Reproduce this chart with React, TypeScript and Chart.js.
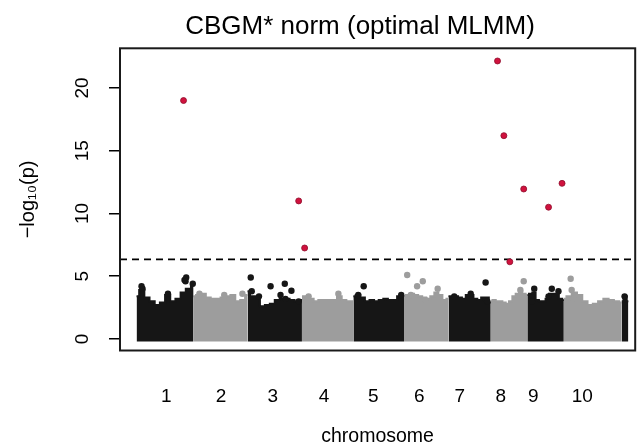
import React, { useEffect, useRef } from "react";
import { Chart, registerables } from "chart.js";

Chart.register(...registerables);

// ---------- data ----------
const TITLE = "CBGM* norm (optimal MLMM)";
const X_TITLE = "chromosome";
const Y_TITLE = "\u2212log\u2081\u2080(p)";

const chromosomes = ["1", "2", "3", "4", "5", "6", "7", "8", "9", "10", ""];
// chromosome lengths (Mb, cumulative axis)
const chrLengths = [287, 272, 274, 259, 255, 224, 213, 184, 184, 292, 33];
// positions (cumulative Mb) where each chromosome label is written
const chrLabelPos = [150, 425, 686, 944, 1192, 1424, 1628, 1834, 1998, 2245];

// upper envelope of the dense mass of markers, sampled evenly along each chromosome (-log10 p)
const chr1Top = [3.4, 3.9, 3.3, 3.0, 2.7, 2.9, 3.5, 3.0, 3.2, 3.7, 4.0, 4.3];
const chr2Top = [3.4, 3.5, 3.6, 3.3, 3.2, 3.2, 3.3, 3.4, 3.5, 3.0, 3.1, 3.5];
const chr3Top = [3.8, 3.4, 3.3, 2.6, 2.7, 2.8, 3.1, 3.2, 3.2, 3.1, 3.0, 3.1];
const chr4Top = [3.4, 3.4, 3.2, 3.0, 3.1, 3.1, 3.1, 3.1, 3.4, 3.1, 3.0, 3.0];
const chr5Top = [3.4, 3.5, 3.3, 3.0, 3.1, 3.0, 3.1, 3.2, 3.1, 3.1, 3.4, 3.3];
const chr6Top = [3.4, 3.5, 3.6, 3.5, 3.4, 3.3, 3.2, 3.4, 3.7, 3.5, 3.1, 3.2];
const chr7Top = [3.4, 3.4, 3.4, 3.3, 3.2, 3.5, 3.5, 3.2, 3.1, 3.3, 3.3, 2.9];
const chr8Top = [3.0, 3.1, 3.0, 3.0, 2.9, 2.8, 3.0, 3.4, 3.6, 3.8, 3.6, 3.5];
const chr9Top = [3.5, 3.6, 3.7, 3.1, 3.0, 3.0, 3.2, 3.6, 3.6, 3.6, 3.2, 3.1];
const chr10Top = [3.2, 3.4, 3.7, 3.5, 3.0, 2.7, 2.8, 3.0, 3.2, 3.1, 3.0, 2.9];
const chr11Top = [3.0, 3.4, 3.0];
const chrTops = [chr1Top, chr2Top, chr3Top, chr4Top, chr5Top, chr6Top, chr7Top, chr8Top, chr9Top, chr10Top, chr11Top];

// isolated markers above the mass on black chromosomes (1,3,5,7,9,11)
const blackDotPos = [30, 25, 158, 241.5, 250, 246.5, 283, 575, 580, 616.5, 675, 725, 746.5, 780, 750, 816.5, 1116.5, 1144, 1333, 1758, 1683, 1600, 1766.5, 2003, 2091.5, 2125, 2075, 1991.5, 2458];
const blackDotVal = [4.0, 4.2, 3.6, 4.7, 4.9, 4.6, 4.4, 4.9, 3.8, 3.4, 4.2, 3.5, 4.4, 3.85, 3.2, 3.0, 3.5, 4.2, 3.5, 4.5, 3.6, 3.4, 3.0, 4.0, 4.0, 3.8, 3.4, 3.0, 3.4];

// isolated markers above the mass on grey chromosomes (2,4,6,8,10)
const greyDotPos = [316.5, 441.5, 533, 1016.5, 866.5, 1363, 1441.5, 1413, 1516.5, 1381.5, 1456.5, 1950, 1933, 2186.5, 2191.5, 2200];
const greyDotVal = [3.6, 3.5, 3.6, 3.6, 3.4, 5.1, 4.6, 4.2, 4.0, 3.5, 3.1, 4.6, 3.9, 4.8, 3.9, 3.2];

// significant markers (red)
const sigPos = [236.5, 816.5, 846.5, 1818, 1850, 1950, 2143, 2075, 1880];
const sigVal = [19.0, 11.0, 7.25, 22.15, 16.2, 11.95, 12.4, 10.5, 6.15];

const threshold = 6.35;
const yTicks = [0, 5, 10, 15, 20];

// ---------- axis ranges / style ----------
const X_MIN = -83.5;
const X_MAX = 2511.5;
const Y_MIN = -0.916;
const Y_MAX = 23.16;
const MASS_BASE = -0.2;

const BLACK = "#161616";
const GREY = "#9d9d9d";
const RED = "#d0123e";
const FONT = '"Liberation Sans", Arial, Helvetica, sans-serif';

export default function App() {
  const canvasRef = useRef<HTMLCanvasElement | null>(null);

  useEffect(() => {
    const canvas = canvasRef.current;
    if (!canvas) return;

    const chrStart: number[] = [];
    let acc = 0;
    chrLengths.forEach((len) => {
      chrStart.push(acc);
      acc += len;
    });
    const labelled = chromosomes.filter((n) => n !== "");

    const massDatasets = chrTops.map((tops, c) => {
      const col = c % 2 === 0 ? BLACK : GREY;
      return {
        type: "line" as const,
        data: tops.map((v, i) => ({
          x: chrStart[c] + (chrLengths[c] * i) / (tops.length - 1),
          y: v,
        })),
        borderColor: col,
        backgroundColor: col,
        borderWidth: 2,
        pointRadius: 0,
        stepped: "middle",
        fill: { value: MASS_BASE },
      };
    });

    const titlePlugin = {
      id: "mainTitle",
      afterDraw(chart: any) {
        const ctx = chart.ctx;
        ctx.save();
        ctx.font = `26px ${FONT}`;
        ctx.fillStyle = "#000";
        ctx.textAlign = "center";
        ctx.textBaseline = "middle";
        ctx.fillText(TITLE, 360, 27);
        ctx.restore();
      },
    };

    const boxPlugin = {
      id: "plotBox",
      afterDatasetsDraw(chart: any) {
        const { ctx, chartArea } = chart;
        ctx.save();
        ctx.strokeStyle = "#1a1a1a";
        ctx.lineWidth = 2;
        ctx.strokeRect(chartArea.left, chartArea.top, chartArea.right - chartArea.left, chartArea.bottom - chartArea.top);
        ctx.restore();
      },
    };

    const chart = new Chart(canvas, {
      type: "scatter",
      data: {
        datasets: [
          {
            data: sigPos.map((x, i) => ({ x, y: sigVal[i] })),
            backgroundColor: RED,
            borderColor: "#8e0c2b",
            borderWidth: 0.8,
            pointRadius: 3,
          },
          {
            type: "line",
            data: [
              { x: X_MIN, y: threshold },
              { x: X_MAX, y: threshold },
            ],
            borderColor: "#000",
            borderWidth: 1.8,
            borderDash: [7, 5],
            pointRadius: 0,
            fill: false,
          },
          {
            data: blackDotPos.map((x, i) => ({ x, y: blackDotVal[i] })),
            backgroundColor: BLACK,
            borderWidth: 0,
            pointRadius: 3.2,
          },
          {
            data: greyDotPos.map((x, i) => ({ x, y: greyDotVal[i] })),
            backgroundColor: GREY,
            borderWidth: 0,
            pointRadius: 3.2,
          },
          ...massDatasets,
        ] as any,
      },
      options: {
        responsive: false,
        animation: false,
        events: [],
        layout: { padding: { top: 48.3, right: 1, left: 0, bottom: 0 } },
        plugins: {
          legend: { display: false },
          tooltip: { enabled: false },
          title: { display: false },
        },
        scales: {
          x: {
            type: "linear",
            min: X_MIN,
            max: X_MAX,
            afterFit: (s: any) => {
              s.height = 97.5;
            },
            afterBuildTicks: (s: any) => {
              s.ticks = chrLabelPos.map((v) => ({ value: v }));
            },
            ticks: {
              autoSkip: false,
              minRotation: 0,
              maxRotation: 0,
              padding: 27,
              color: "#000",
              font: { family: FONT, size: 19 },
              callback: (_v: any, i: number) => labelled[i],
            },
            grid: { display: false },
            border: { display: false },
            title: {
              display: true,
              text: X_TITLE,
              color: "#000",
              font: { family: FONT, size: 19.5 },
              padding: { top: 0, bottom: 0 },
            },
          },
          y: {
            type: "linear",
            min: Y_MIN,
            max: Y_MAX,
            afterFit: (s: any) => {
              s.width = 120;
            },
            afterBuildTicks: (s: any) => {
              s.ticks = yTicks.map((v) => ({ value: v }));
            },
            ticks: {
              minRotation: 90,
              maxRotation: 90,
              crossAlign: "center",
              padding: 16,
              color: "#000",
              font: { family: FONT, size: 19 },
            },
            grid: {
              drawOnChartArea: false,
              drawTicks: true,
              tickLength: 11,
              color: "#000",
              lineWidth: 1.5,
            },
            border: { display: false },
            title: {
              display: true,
              text: Y_TITLE,
              color: "#000",
              font: { family: FONT, size: 20 },
              padding: { top: 16, bottom: 0 },
            },
          },
        },
      } as any,
      plugins: [titlePlugin, boxPlugin],
    });

    return () => {
      chart.destroy();
    };
  }, []);

  return (
    <div style={{ position: "fixed", left: 0, top: 0, width: 640, height: 448, background: "#fff" }}>
      <canvas ref={canvasRef} width={640} height={448} style={{ width: 640, height: 448, display: "block" }} />
    </div>
  );
}
